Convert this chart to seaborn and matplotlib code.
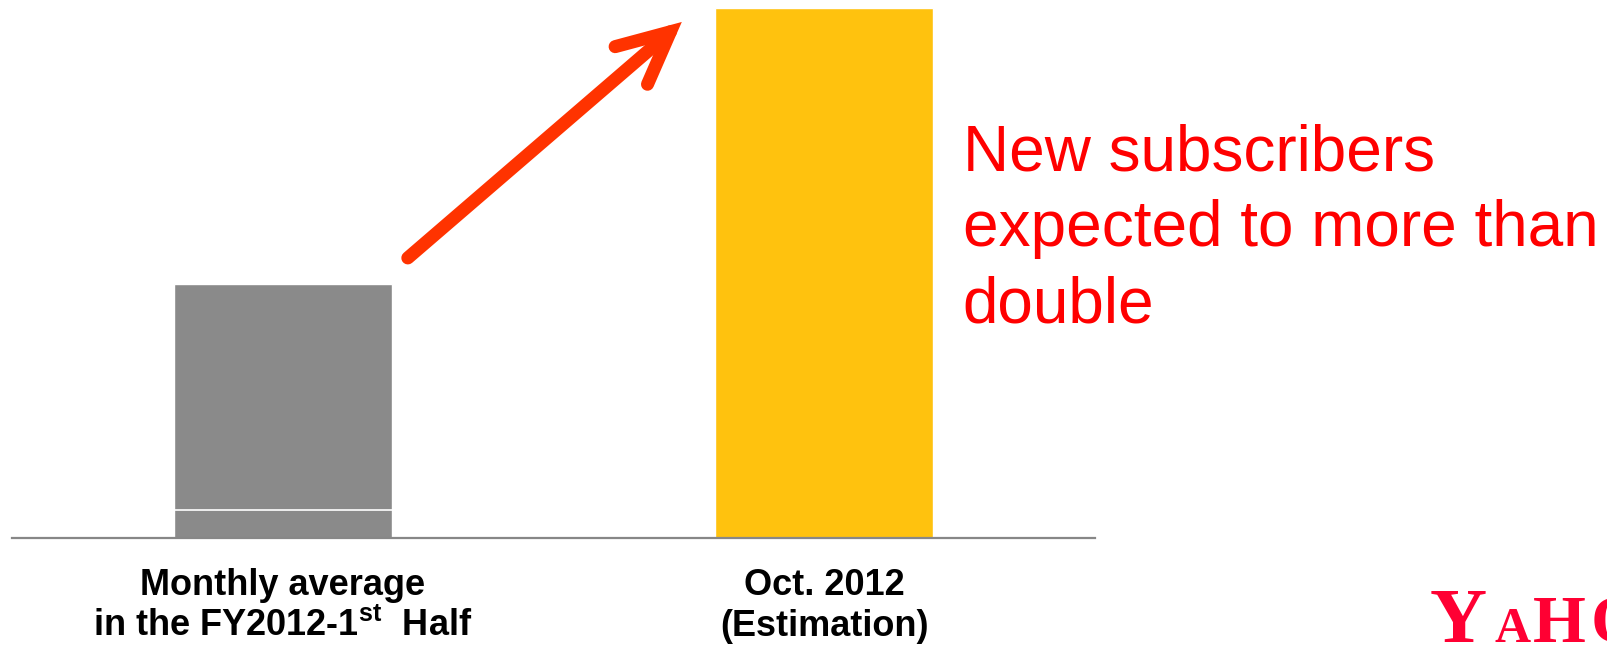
import matplotlib
matplotlib.use("Agg")
import matplotlib.pyplot as plt
import seaborn as sns
import pandas as pd

# values (relative index, first bar = 100)
periods = ["Monthly average\nin the FY2012-1$^{\\mathbf{st}}$  Half", "Oct. 2012\n(Estimation)"]
subscribers = [100, 209]
base_part = [11, 0]
bar_colors = ["#8A8A8A", "#FFC20E"]

sns.set_theme(style="white")
plt.rcParams["font.family"] = ["Liberation Sans", "DejaVu Sans"]
plt.rcParams["mathtext.fontset"] = "custom"
plt.rcParams["mathtext.rm"] = "Liberation Sans"
plt.rcParams["mathtext.bf"] = "Liberation Sans:bold"

df = pd.DataFrame({"period": periods, "subscribers": subscribers})

fig = plt.figure(figsize=(16.07, 6.47), dpi=100)
ax = fig.add_axes([0.00747, 0.1689, 0.6739, 0.8187])

sns.barplot(data=df, x="period", y="subscribers", hue="period", palette=bar_colors,
            width=0.4026, legend=False, ax=ax, saturation=1)

# thin white separator inside the stacked grey bar
for patch, b in zip(ax.patches, base_part):
    if b > 0:
        ax.hlines(b, patch.get_x(), patch.get_x() + patch.get_width(), color="white", lw=1.2)

ax.set_xlim(-0.5, 1.5)
ax.set_ylim(0, subscribers[1])
for s in ["top", "right", "left"]:
    ax.spines[s].set_visible(False)
ax.spines["bottom"].set_color("#878787")
ax.spines["bottom"].set_linewidth(1.6)
ax.set_yticks([])
ax.set_xlabel("")
ax.set_ylabel("")
ax.tick_params(axis="x", length=0, pad=22)
plt.setp(ax.get_xticklabels(), fontsize=26, fontweight="bold", color="black", linespacing=1.2)

# growth arrow
ax.annotate("", xy=(0.737, 203.5), xytext=(0.231, 110.4),
            arrowprops=dict(arrowstyle="->,head_length=0.79,head_width=0.38",
                            mutation_scale=47, color="#FF3300", lw=9.4,
                            shrinkA=0, shrinkB=0, capstyle="round", joinstyle="miter"))

fig.text(0.599, 0.5023, "New subscribers\nexpected to more than\ndouble", color="#FF0000",
         fontsize=46, ha="left", va="baseline", linespacing=1.34)

# logo fragment in the corner
fig.text(0.8898, 0.0077, "Y", color="#FF0033", fontsize=57, family="Liberation Serif",
         fontweight="bold", va="baseline")
fig.text(0.9303, 0.0077, "A", color="#FF0033", fontsize=36, family="Liberation Serif",
         fontweight="bold", va="baseline")
fig.text(0.954, 0.0077, "H", color="#FF0033", fontsize=49, family="Liberation Serif",
         fontweight="bold", va="baseline")
fig.text(0.9895, 0.0077, "O", color="#FF0033", fontsize=49, family="Liberation Serif",
         fontweight="bold", va="baseline")

fig.savefig("out.png", dpi=100)
